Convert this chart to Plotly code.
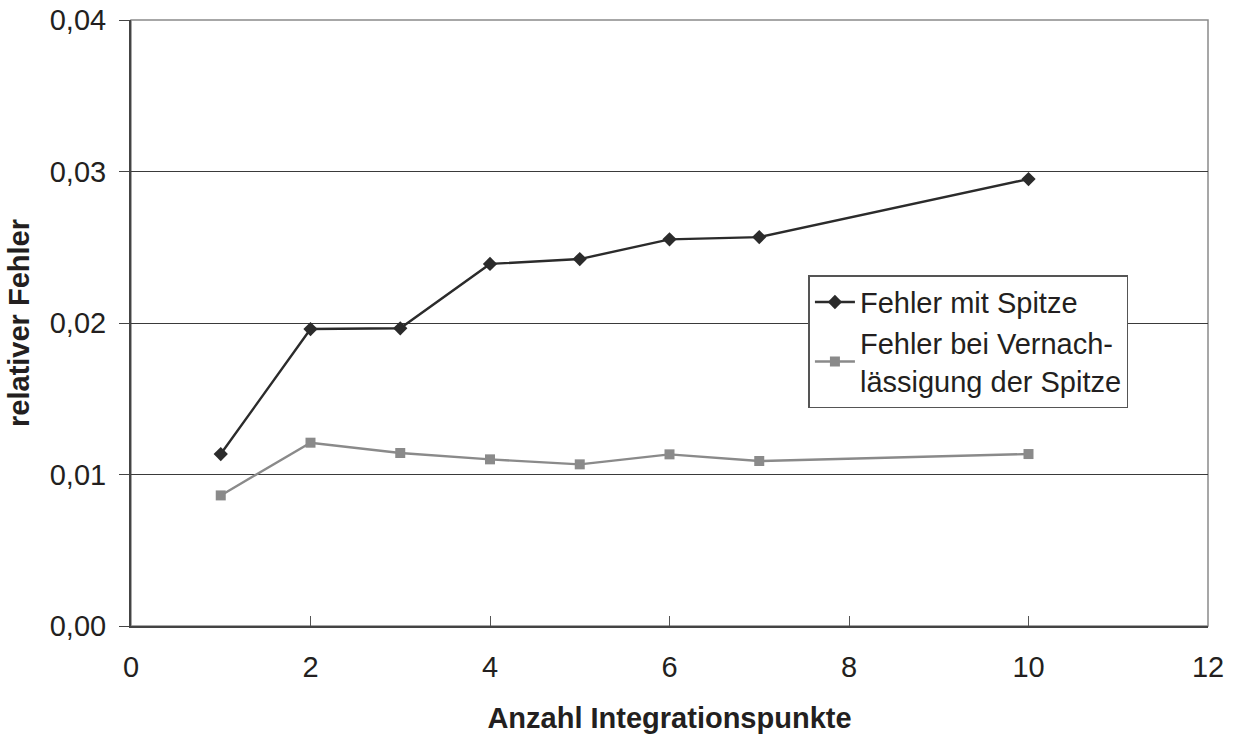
import plotly.graph_objects as go

# Number of integration points and relative errors
punkte = [1, 2, 3, 4, 5, 6, 7, 10]
fehler_mit_spitze = [0.01135, 0.0196, 0.01965, 0.0239, 0.02422, 0.02552, 0.02567, 0.0295]
fehler_ohne_spitze = [0.00862, 0.0121, 0.01142, 0.0110, 0.01067, 0.01133, 0.01089, 0.01135]

series_names = ["Fehler mit Spitze", "Fehler bei Vernach-<br>lässigung der Spitze"]

x_ticks = [0, 2, 4, 6, 8, 10, 12]
y_ticks = [0.0, 0.01, 0.02, 0.03, 0.04]

font_family = "Liberation Sans, Arial, sans-serif"
text_color = "#231f20"

fig = go.Figure()
fig.add_trace(go.Scatter(
    x=punkte, y=fehler_mit_spitze, name=series_names[0], mode="lines+markers",
    line=dict(color="#2b2b2b", width=2.4),
    marker=dict(symbol="diamond", size=11, color="#2b2b2b"),
))
fig.add_trace(go.Scatter(
    x=punkte, y=fehler_ohne_spitze, name=series_names[1], mode="lines+markers",
    line=dict(color="#8a8a8a", width=2.4),
    marker=dict(symbol="square", size=10, color="#8a8a8a"),
))

# Grey frame around the plot area (top and right edges)
fig.add_shape(type="rect", xref="paper", yref="paper", x0=0, x1=1, y0=0, y1=1,
              line=dict(color="#8a8a8a", width=1.5), layer="below")

fig.update_layout(
    width=1236, height=735,
    margin=dict(l=131, r=28, t=20, b=109, autoexpand=False),
    paper_bgcolor="white", plot_bgcolor="white",
    separators=",.",
    font=dict(family=font_family, color=text_color, size=29),
    legend=dict(
        x=0.629, y=0.579, xanchor="left", yanchor="top",
        bgcolor="white", bordercolor="#555555", borderwidth=1.5,
        font=dict(size=29, color=text_color),
        itemwidth=40, tracegroupgap=0,
    ),
    xaxis=dict(
        range=[0, 12], tickvals=x_ticks, ticks="inside", ticklen=10,
        tickcolor="#555555", showline=True, linecolor="#444444", linewidth=2,
        showgrid=False, zeroline=False, ticklabelstandoff=14, automargin=False,
        title=dict(text="<b>Anzahl Integrationspunkte</b>", font=dict(size=29), standoff=26),
    ),
    yaxis=dict(
        range=[0, 0.04], tickvals=y_ticks, tickformat=".2f", ticks="outside", ticklen=10,
        tickcolor="#444444", showline=True, linecolor="#444444", linewidth=2,
        showgrid=True, gridcolor="#3a3a3a", gridwidth=1.2, zeroline=False,
        ticklabelstandoff=7, automargin=False,
        title=dict(text="<b>relativer Fehler</b>", font=dict(size=29), standoff=12),
    ),
    showlegend=True,
)

fig.write_html("out.html")
